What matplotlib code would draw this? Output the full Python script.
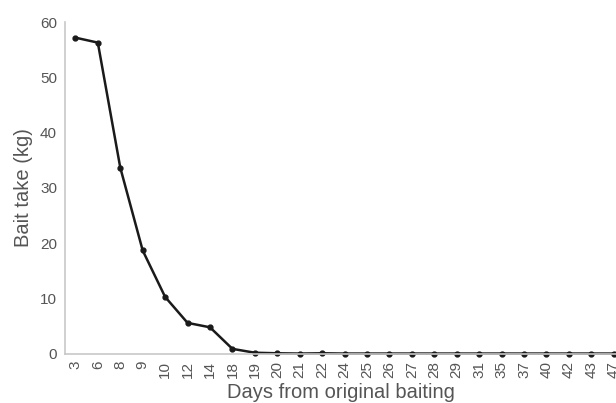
import matplotlib
matplotlib.use("Agg")
import matplotlib.pyplot as plt

days = ["3", "6", "8", "9", "10", "12", "14", "18", "19", "20", "21", "22", "24",
        "25", "26", "27", "28", "29", "31", "35", "37", "40", "42", "43", "47"]
bait_take = [57.2, 56.3, 33.7, 18.7, 10.3, 5.6, 4.8, 0.9, 0.2, 0.1, 0.05, 0.1, 0.05,
             0.05, 0.05, 0.05, 0.05, 0.05, 0.05, 0.05, 0.05, 0.05, 0.05, 0.05, 0.05]

plt.rcParams["font.family"] = ["Liberation Sans", "DejaVu Sans"]
grey = "#555555"

fig = plt.figure(figsize=(6.16, 4.03), dpi=100)
ax = fig.add_axes([0.106, 0.122, 0.894, 0.823])

x = list(range(len(days)))
ax.plot(x, bait_take, color="#1a1a1a", lw=1.8, marker="o", ms=3.5, clip_on=False)

ax.set_xlim(-0.45, 24.1)
ax.set_ylim(0, 60)
ax.set_xticks(x)
ax.set_xticklabels(days, rotation=90, fontsize=11, color=grey)
ax.set_yticks([0, 10, 20, 30, 40, 50, 60])
ax.tick_params(axis="y", labelsize=11, labelcolor=grey, length=0, pad=6)
ax.tick_params(axis="x", length=0, pad=5)

for side in ["top", "right"]:
    ax.spines[side].set_visible(False)
for side in ["left", "bottom"]:
    ax.spines[side].set_color("#c8c8c8")
    ax.spines[side].set_linewidth(1.2)

ax.set_xlabel("Days from original baiting", fontsize=14.5, color=grey, labelpad=4)
ax.set_ylabel("Bait take (kg)", fontsize=14.5, color=grey, labelpad=5)

fig.savefig("out.png", dpi=100)
